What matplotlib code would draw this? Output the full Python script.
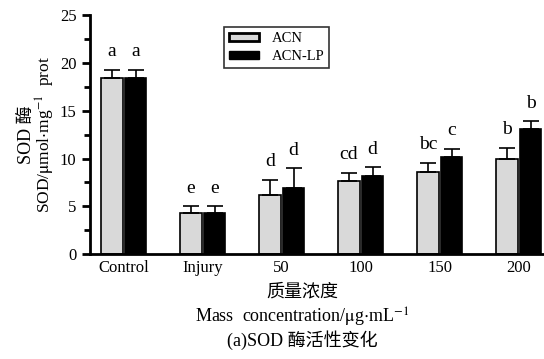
import numpy as np
import matplotlib.pyplot as plt
from matplotlib.patches import Patch
from matplotlib.ticker import MultipleLocator

plt.rcParams['font.family'] = ['Liberation Serif', 'Noto Sans CJK SC']
plt.rcParams['mathtext.fontset'] = 'stix'

groups = ['Control', 'Injury', '50', '100', '150', '200']
acn = [18.4, 4.3, 6.2, 7.6, 8.6, 10.0]
acn_err = [0.9, 0.7, 1.6, 0.9, 0.95, 1.1]
acn_lp = [18.4, 4.3, 6.9, 8.2, 10.2, 13.1]
acn_lp_err = [0.9, 0.7, 2.1, 0.9, 0.8, 0.8]
acn_sig = ['a', 'e', 'd', 'cd', 'bc', 'b']
acn_lp_sig = ['a', 'e', 'd', 'd', 'c', 'b']

fig = plt.figure(figsize=(5.44, 3.59), dpi=100)
ax = fig.add_axes([0.165, 0.292, 0.835, 0.666])

x = np.arange(len(groups))
w = 0.27
off = 0.15
ax.bar(x - off, acn, w, color='#d9d9d9', edgecolor='black', linewidth=1.2,
       yerr=[np.zeros(len(acn)), acn_err], capsize=6,
       error_kw=dict(elinewidth=1.2, capthick=1.2, ecolor='black'))
ax.bar(x + off, acn_lp, w, color='black', edgecolor='black', linewidth=1.2,
       yerr=[np.zeros(len(acn_lp)), acn_lp_err], capsize=6,
       error_kw=dict(elinewidth=1.2, capthick=1.2, ecolor='black'))

# significance letters above the error bars
for i in range(len(groups)):
    ax.text(x[i] - off, acn[i] + acn_err[i] + 1.0, acn_sig[i],
            ha='center', va='bottom', fontsize=14)
    ax.text(x[i] + off, acn_lp[i] + acn_lp_err[i] + 1.0, acn_lp_sig[i],
            ha='center', va='bottom', fontsize=14)

ax.set_xlim(-0.43, 5.32)
ax.set_ylim(0, 25)
ax.set_xticks(x)
ax.set_xticklabels(groups, fontsize=12)
ax.tick_params(axis='x', length=0, pad=4)
ax.yaxis.set_major_locator(MultipleLocator(5))
ax.yaxis.set_minor_locator(MultipleLocator(2.5))
ax.tick_params(axis='y', which='major', length=6, width=2, labelsize=12, direction='out')
ax.tick_params(axis='y', which='minor', length=4, width=2, direction='out')
for s in ['top', 'right']:
    ax.spines[s].set_visible(False)
ax.spines['left'].set_linewidth(2)
ax.spines['bottom'].set_linewidth(2)

handles = [Patch(facecolor='#d9d9d9', edgecolor='black', linewidth=2, label='ACN'),
           Patch(facecolor='black', edgecolor='black', label='ACN-LP')]
leg = ax.legend(handles=handles, loc='upper left', bbox_to_anchor=(0.28, 0.98),
                fontsize=10.5, frameon=True, fancybox=False, edgecolor='black',
                handlelength=2.0, handleheight=0.45, borderpad=0.35, labelspacing=0.35,
                handletextpad=0.9)
leg.get_frame().set_linewidth(1.2)

fig.text(0.048, 0.625, 'SOD 酶', rotation=90, ha='center', va='center', fontsize=13)
fig.text(0.084, 0.625, r'SOD/$\mathrm{\mu}$mol$\cdot$mg$^{-1}$  prot', rotation=90,
         ha='center', va='center', fontsize=12.5)

fig.text(0.555, 0.187, '质量浓度', ha='center', va='center', fontsize=13)
fig.text(0.555, 0.115, r'Mass  concentration/$\mathrm{\mu}$g$\cdot$mL$^{-1}$',
         ha='center', va='center', fontsize=13)
fig.text(0.555, 0.053, '(a)SOD 酶活性变化', ha='center', va='center', fontsize=13)

fig.savefig('out.png', dpi=100)
